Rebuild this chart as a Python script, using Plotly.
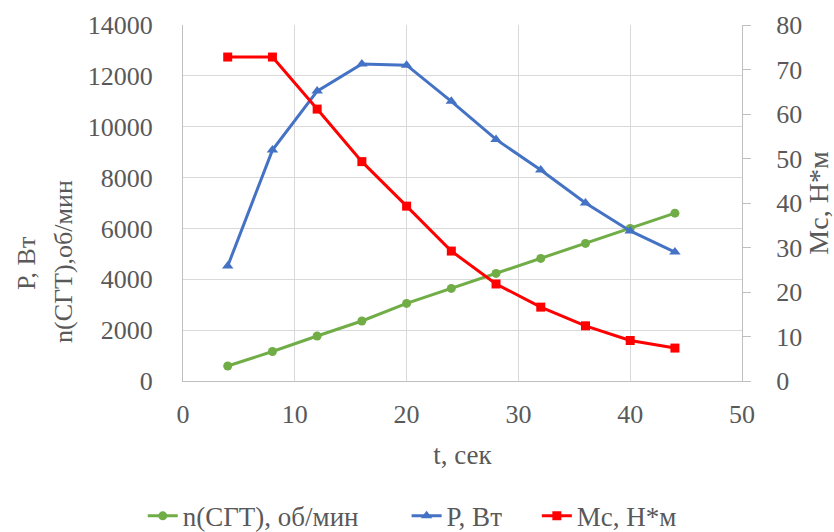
import plotly.graph_objects as go

t = [4, 8, 12, 16, 20, 24, 28, 32, 36, 40, 44]
n_sgt = [590, 1160, 1770, 2360, 3050, 3640, 4230, 4820, 5410, 6000, 6600]
p_vt = [4520, 9080, 11400, 12470, 12420, 11000, 9500, 8300, 7000, 5900, 5070]
mc = [72.8, 72.8, 61.1, 49.3, 39.3, 29.2, 21.8, 16.6, 12.4, 9.1, 7.4]

left_title_1 = "P, Вт"
left_title_2 = "n(СГТ),об/мин"

font_family = "Liberation Serif, Times New Roman, serif"
txt = "#595959"
fs = 26

fig = go.Figure()
fig.add_trace(go.Scatter(x=t, y=n_sgt, name="n(СГТ), об/мин", mode="lines+markers", legend="legend",
                         line=dict(color="#70ad47", width=3),
                         marker=dict(symbol="circle", size=9, color="#70ad47")))
fig.add_trace(go.Scatter(x=t, y=p_vt, name="P, Вт", mode="lines+markers", legend="legend2",
                         line=dict(color="#4472c4", width=3),
                         marker=dict(symbol="triangle-up", size=10, color="#4472c4")))
fig.add_trace(go.Scatter(x=t, y=mc, name="Mc, Н*м", mode="lines+markers", yaxis="y2", legend="legend3",
                         line=dict(color="#ff0000", width=3),
                         marker=dict(symbol="square", size=9, color="#ff0000")))

leg_common = dict(orientation="h", xanchor="left", y=-0.38, yanchor="middle",
                  font=dict(family=font_family, size=27, color=txt), bgcolor="rgba(0,0,0,0)")

fig.update_layout(
    width=834, height=532,
    margin=dict(l=183, r=92, t=25, b=151, autoexpand=False),
    paper_bgcolor="white", plot_bgcolor="white",
    font=dict(family=font_family, size=fs, color=txt),
    showlegend=True,
    legend=dict(x=-0.072, **leg_common),
    legend2=dict(x=0.40, **leg_common),
    legend3=dict(x=0.633, **leg_common),
    xaxis=dict(range=[0, 50], dtick=10, showgrid=True, gridcolor="#d9d9d9", gridwidth=1.3,
               showline=True, linecolor="#bfbfbf", linewidth=1.3, zeroline=False,
               ticks="", ticklabelstandoff=10,
               tickfont=dict(family=font_family, size=fs, color=txt),
               title=dict(text="t, сек", font=dict(family=font_family, size=27, color=txt), standoff=16)),
    yaxis=dict(range=[0, 14000], dtick=2000, tickformat="d", showgrid=True, gridcolor="#d9d9d9",
               gridwidth=1.3, showline=True, linecolor="#bfbfbf", linewidth=1.3, zeroline=False,
               ticks="", ticklabelstandoff=24,
               tickfont=dict(family=font_family, size=fs, color=txt)),
    yaxis2=dict(range=[0, 80], dtick=10, overlaying="y", side="right", showgrid=False,
                showline=True, linecolor="#bfbfbf", linewidth=1.3, zeroline=False,
                ticks="outside", ticklen=8, tickcolor="#bfbfbf", tickwidth=1.3, ticklabelstandoff=20,
                tickfont=dict(family=font_family, size=fs, color=txt),
                title=dict(text="Mc, Н*м", font=dict(family=font_family, size=28, color=txt), standoff=8)),
)

fig.add_annotation(text=left_title_1, xref="paper", yref="paper", x=(26 - 183) / 559, y=(381 - 264) / 356,
                   textangle=-90, showarrow=False, xanchor="center", yanchor="middle",
                   font=dict(family=font_family, size=26, color=txt))
fig.add_annotation(text=left_title_2, xref="paper", yref="paper", x=(63 - 183) / 559, y=(381 - 262) / 356,
                   textangle=-90, showarrow=False, xanchor="center", yanchor="middle",
                   font=dict(family=font_family, size=26, color=txt))

fig.write_html("out.html")
